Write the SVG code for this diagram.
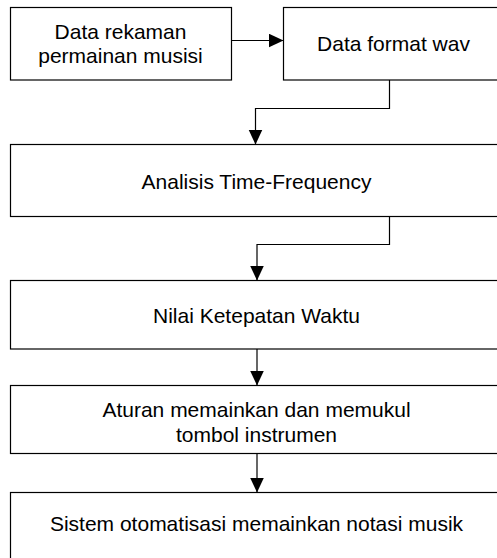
<svg xmlns="http://www.w3.org/2000/svg" width="497" height="558" viewBox="0 0 497 558">
  <style>
    .box { fill: #ffffff; stroke: #000000; stroke-width: 1.2; }
    .lbl { font-family: "Liberation Sans", Arial, sans-serif; font-size: 21px; fill: #000000; text-anchor: middle; }
    .wire { fill: none; stroke: #000000; stroke-width: 1.2; }
  </style>
  <defs>
    <marker id="head" markerUnits="userSpaceOnUse" markerWidth="16" markerHeight="16" viewBox="0 0 16 16" refX="15" refY="7" orient="auto">
      <path d="M0,0 L15,7 L0,14 Z" fill="#000000"/>
    </marker>
  </defs>
  <rect width="497" height="558" fill="#ffffff"/>

  <g id="rekaman">
    <rect class="box" x="10.5" y="7.5" width="221" height="72.5"/>
    <text class="lbl" x="120.5" y="39">Data rekaman</text>
    <text class="lbl" x="120.5" y="63">permainan musisi</text>
  </g>

  <g id="wav">
    <rect class="box" x="283.5" y="7.5" width="220" height="72.5"/>
    <text class="lbl" x="393.5" y="51">Data format wav</text>
  </g>

  <g id="analisis">
    <rect class="box" x="10.5" y="144.5" width="493" height="72"/>
    <text class="lbl" x="256.5" y="189">Analisis Time-Frequency</text>
  </g>

  <g id="ketepatan">
    <rect class="box" x="10.5" y="280.5" width="493" height="68.5"/>
    <text class="lbl" x="256.5" y="322.5">Nilai Ketepatan Waktu</text>
  </g>

  <g id="aturan">
    <rect class="box" x="10.5" y="385.5" width="493" height="68"/>
    <text class="lbl" x="256.5" y="416.5">Aturan memainkan dan memukul</text>
    <text class="lbl" x="256.5" y="441.5">tombol instrumen</text>
  </g>

  <g id="otomatisasi">
    <rect class="box" x="10.5" y="492.5" width="493" height="80"/>
    <text class="lbl" x="256.5" y="531">Sistem otomatisasi memainkan notasi musik</text>
  </g>

  <g id="connectors">
    <path class="wire" d="M231.5,40.5 H283.5" marker-end="url(#head)"/>
    <path class="wire" d="M389.5,80 V108.5 H255.5 V144.5" marker-end="url(#head)"/>
    <path class="wire" d="M389.5,216.5 V244.5 H257 V280.5" marker-end="url(#head)"/>
    <path class="wire" d="M257,349 V385.5" marker-end="url(#head)"/>
    <path class="wire" d="M257,453.5 V492.5" marker-end="url(#head)"/>
  </g>
</svg>
